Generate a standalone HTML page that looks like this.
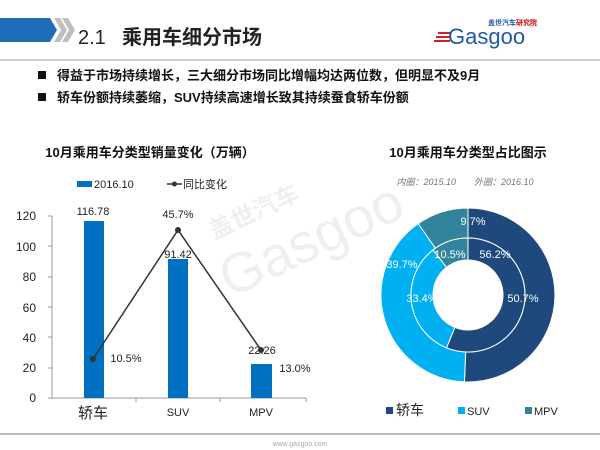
<!DOCTYPE html>
<html><head><meta charset="utf-8"><style>
body{margin:0;background:#fff;}
svg{display:block;}
text{font-family:"Liberation Sans","Noto Sans CJK SC",sans-serif;}
</style></head><body>
<svg id="s" width="600" height="450" viewBox="0 0 600 450" xmlns="http://www.w3.org/2000/svg">
<polygon points="0,18 50,18 57,30 50,42 0,42" fill="#1f6db8"/>
<polygon points="54,18 60,18 67,30 60,42 54,42 61,30" fill="#bfbfbf"/>
<polygon points="62,18 68,18 75,30 68,42 62,42 69,30" fill="#bfbfbf"/>
<text x="78" y="44" font-size="20" fill="#222">2.1</text>
<text x="122" y="44" font-size="20" fill="#222" font-weight="bold">乘用车细分市场</text>
<rect x="0" y="59" width="600" height="2" fill="#d0d0d0"/>
<text x="488" y="25" font-size="7" fill="#1f5aa6" font-weight="bold">盖世汽车<tspan fill="#c00">研究院</tspan></text>
<rect x="438" y="32" width="12" height="2" fill="#c8242b"/>
<rect x="436" y="36" width="14" height="2" fill="#c8242b"/>
<rect x="434" y="40" width="16" height="2" fill="#c8242b"/>
<text x="448" y="44" font-size="22" fill="#1f5aa6" font-family="Liberation Serif,serif">Gasgoo</text>
<rect x="38" y="71" width="8" height="8" fill="#111"/>
<rect x="38" y="93" width="8" height="8" fill="#111"/>
<text x="57" y="80" font-size="13" font-weight="bold" fill="#111">得益于市场持续增长，三大细分市场同比增幅均达两位数，但明显不及9月</text>
<text x="57" y="102" font-size="13" font-weight="bold" fill="#111">轿车份额持续萎缩，SUV持续高速增长致其持续蚕食轿车份额</text>
<g opacity="0.08" fill="#444" transform="rotate(-25 270 230)">
<text x="215" y="215" font-size="24" font-weight="bold">盖世汽车</text>
<text x="205" y="275" font-size="56" font-family="Liberation Serif,serif">Gasgoo</text>
</g>
<text x="150" y="157" font-size="13" font-weight="bold" text-anchor="middle" fill="#111">10月乘用车分类型销量变化（万辆）</text>
<rect x="77" y="181" width="15" height="6" fill="#0070c0"/>
<text x="94" y="188" font-size="11" fill="#222">2016.10</text>
<line x1="167" y1="184" x2="182" y2="184" stroke="#333" stroke-width="1.5"/>
<circle cx="174.5" cy="184" r="2.5" fill="#333"/>
<text x="183" y="188" font-size="11" fill="#222">同比变化</text>
<g font-size="12" fill="#222" text-anchor="end">
<text x="36" y="220">120</text><text x="36" y="251">100</text><text x="36" y="281">80</text>
<text x="36" y="312">60</text><text x="36" y="342">40</text><text x="36" y="372">20</text><text x="36" y="402">0</text>
</g>
<line x1="52" y1="216" x2="52" y2="398" stroke="#999"/>
<line x1="52" y1="398" x2="306" y2="398" stroke="#999"/>
<g stroke="#999"><line x1="48" y1="216" x2="52" y2="216"/><line x1="48" y1="246" x2="52" y2="246"/><line x1="48" y1="277" x2="52" y2="277"/><line x1="48" y1="307" x2="52" y2="307"/><line x1="48" y1="337" x2="52" y2="337"/><line x1="48" y1="368" x2="52" y2="368"/><line x1="48" y1="398" x2="52" y2="398"/><line x1="136" y1="398" x2="136" y2="402"/><line x1="220" y1="398" x2="220" y2="402"/><line x1="306" y1="398" x2="306" y2="402"/></g>
<rect x="84" y="221" width="20" height="177" fill="#0070c0"/>
<rect x="168" y="259" width="20" height="139" fill="#0070c0"/>
<rect x="251" y="364" width="21" height="34" fill="#0070c0"/>
<polyline points="93,359 178,230 261,350" fill="none" stroke="#333" stroke-width="1.5"/>
<circle cx="93" cy="359" r="3" fill="#333"/><circle cx="178" cy="230" r="3" fill="#333"/><circle cx="261" cy="350" r="3" fill="#333"/>
<g font-size="11" fill="#222" text-anchor="middle">
<text x="93" y="215">116.78</text><text x="178" y="218">45.7%</text><text x="178" y="258">91.42</text>
<text x="126" y="362">10.5%</text><text x="262" y="354">22.26</text><text x="295" y="372">13.0%</text>
<text x="178" y="416">SUV</text><text x="261" y="416">MPV</text>
</g>
<text x="93" y="418" font-size="15" text-anchor="middle" fill="#222">轿车</text>
<text x="468" y="157" font-size="13" font-weight="bold" text-anchor="middle" fill="#111">10月乘用车分类型占比图示</text>
<text x="465" y="185" font-size="9" font-style="italic" text-anchor="middle" fill="#777">内圈：2015.10　　外圈：2016.10</text>
<g id="donut"></g>
<g font-size="11" fill="#fff" text-anchor="middle">
<text x="473" y="225">9.7%</text><text x="402" y="268">39.7%</text><text x="523" y="302">50.7%</text>
<text x="450" y="258">10.5%</text><text x="495" y="258">56.2%</text><text x="422" y="302">33.4%</text>
</g>
<rect x="386" y="407" width="7" height="7" fill="#1f497d"/><text x="396" y="415" font-size="14" fill="#222">轿车</text>
<rect x="458" y="407" width="7" height="7" fill="#00b0f0"/><text x="467" y="415" font-size="11" fill="#222">SUV</text>
<rect x="525" y="407" width="7" height="7" fill="#31849b"/><text x="534" y="415" font-size="11" fill="#222">MPV</text>
<rect x="0" y="433" width="600" height="2" fill="#bdbdbd"/>
<text x="300" y="446" font-size="7" fill="#aaa" text-anchor="middle">www.gasgoo.com</text>
</svg>
<script>
(function(){
var cx=468,cy=295,g=document.getElementById('donut'),cols=['#1f497d','#00b0f0','#31849b'];
function ring(vals,r1,r2){var a=0,t=vals.reduce(function(x,y){return x+y},0);
vals.forEach(function(v,i){var a0=a/t*2*Math.PI,a1=(a+v)/t*2*Math.PI;a+=v;
function p(r,an){return (cx+r*Math.sin(an)).toFixed(2)+','+(cy-r*Math.cos(an)).toFixed(2);}
var lg=(a1-a0)>Math.PI?1:0;
var d='M'+p(r2,a0)+'A'+r2+','+r2+' 0 '+lg+' 1 '+p(r2,a1)+'L'+p(r1,a1)+'A'+r1+','+r1+' 0 '+lg+' 0 '+p(r1,a0)+'Z';
var e=document.createElementNS('http://www.w3.org/2000/svg','path');e.setAttribute('d',d);e.setAttribute('fill',cols[i]);e.setAttribute('stroke','#fff');e.setAttribute('stroke-width','1');g.appendChild(e);});}
ring([50.7,39.7,9.7],57,87);ring([56.2,33.4,10.5],35,57);
})();
</script>
</body></html>
